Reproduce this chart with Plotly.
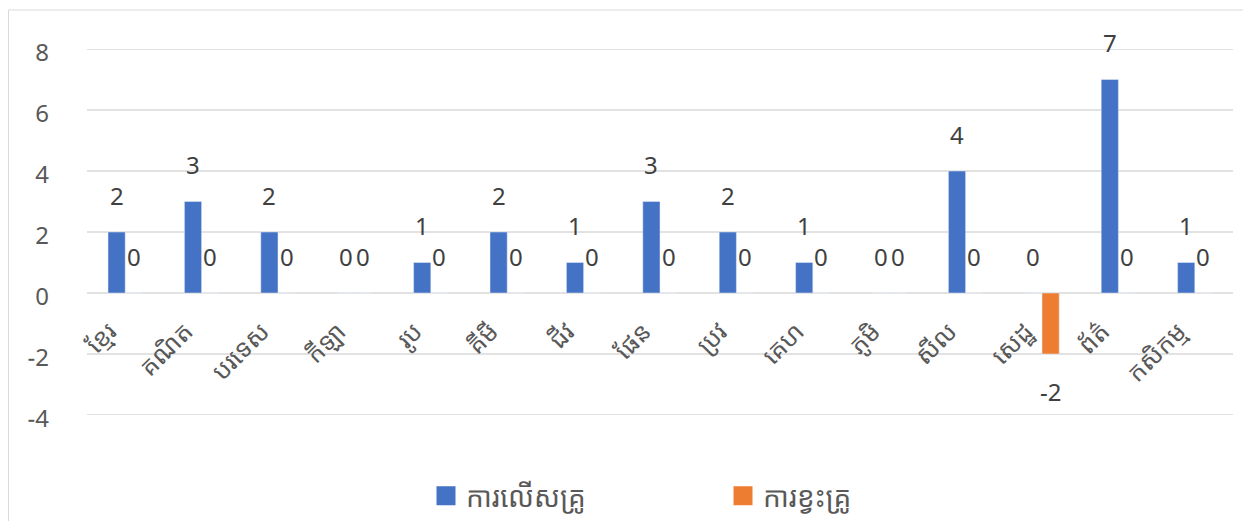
import plotly.graph_objects as go

# %% Data.
subjects = ["ខ្មែរ", "គណិត", "បរទេស", "កីឡា", "រូប", "គីមី", "ជីវ", "ផែន",
            "ប្រវ", "គេហ", "ភូមិ", "សីល", "សេដ្ឋ", "ព័ត៌", "កសិកម្ម"]
surplus = [2, 3, 2, 0, 1, 2, 1, 3, 2, 1, 0, 4, 0, 7, 1]
shortage = [0, 0, 0, 0, 0, 0, 0, 0, 0, 0, 0, 0, -2, 0, 0]
y_ticks = [-4, -2, 0, 2, 4, 6, 8]

FONT = "Noto Sans Khmer, Khmer OS, Noto Sans, DejaVu Sans, sans-serif"
BLUE, ORANGE = "#4472C4", "#ED7D31"
W, H = 1243, 513              # page body adds an 8px margin
L, R, T, B = 79, 18, 41, 106
PW, PH = W - L - R, H - T - B
BAR_HALF = PW / len(subjects) * 0.45 / 4


def px_x(fx):
    return (fx - L) / PW


def px_y(fy):
    return (H - B - fy) / PH


# %% Figure.
fig = go.Figure()
fig.add_trace(go.Bar(x=subjects, y=surplus, marker_color=BLUE, showlegend=False))
fig.add_trace(go.Bar(x=subjects, y=shortage, marker_color=ORANGE, showlegend=False))

# legend entries with bigger squares
for name, col in [("ការលើសគ្រូ", BLUE), ("ការខ្វះគ្រូ", ORANGE)]:
    fig.add_trace(go.Scatter(x=[None], y=[None], mode="markers", name=name,
                             marker=dict(symbol="square", size=16, color=col,
                                         line=dict(color=col, width=3))))

# data labels
for vals, shift in [(surplus, -BAR_HALF), (shortage, BAR_HALF)]:
    for s, v in zip(subjects, vals):
        fig.add_annotation(x=s, y=v, text=str(v), showarrow=False, xshift=shift,
                           yshift=37 if v >= 0 else -37, yanchor="middle",
                           font=dict(size=24, color="#404040"))

# gridlines
for t in y_ticks:
    fig.add_shape(type="line", xref="paper", yref="y", x0=0, x1=1, y0=t, y1=t,
                  line=dict(color="#D9D9D9", width=1.5), layer="below")

fig.update_layout(
    width=W, height=H,
    margin=dict(l=L, r=R, t=T, b=B, autoexpand=False),
    paper_bgcolor="white", plot_bgcolor="white",
    font=dict(family=FONT, color="#595959"),
    barmode="group", bargap=0.55, bargroupgap=0,
    showlegend=True,
    legend=dict(orientation="h", x=px_x(418), xanchor="left",
                y=px_y(488), yanchor="middle", entrywidth=252, itemsizing="trace",
                bgcolor="rgba(0,0,0,0)",
                font=dict(size=28, color="#595959"), tracegroupgap=0),
)
fig.update_yaxes(range=[-4, 8], tickvals=y_ticks, showgrid=False, zeroline=False,
                 showline=False, ticks="", automargin=False,
                 tickfont=dict(size=24, color="#595959"),
                 ticklabelstandoff=37, ticklabelshift=4)
fig.update_xaxes(anchor="free", position=4 / 12, showline=False, ticks="",
                 automargin=False, tickangle=-45, showgrid=False,
                 tickfont=dict(size=25, color="#595959"),
                 ticklabelshift=-16, ticklabelstandoff=18)

# chart border (bottom edge falls outside the picture)
fig.add_shape(type="rect", xref="paper", yref="paper",
              x0=px_x(0.5), x1=px_x(1236), y0=px_y(530), y1=px_y(2),
              line=dict(color="#D9D9D9", width=1), fillcolor="rgba(0,0,0,0)", layer="below")

fig.write_html("out.html")
